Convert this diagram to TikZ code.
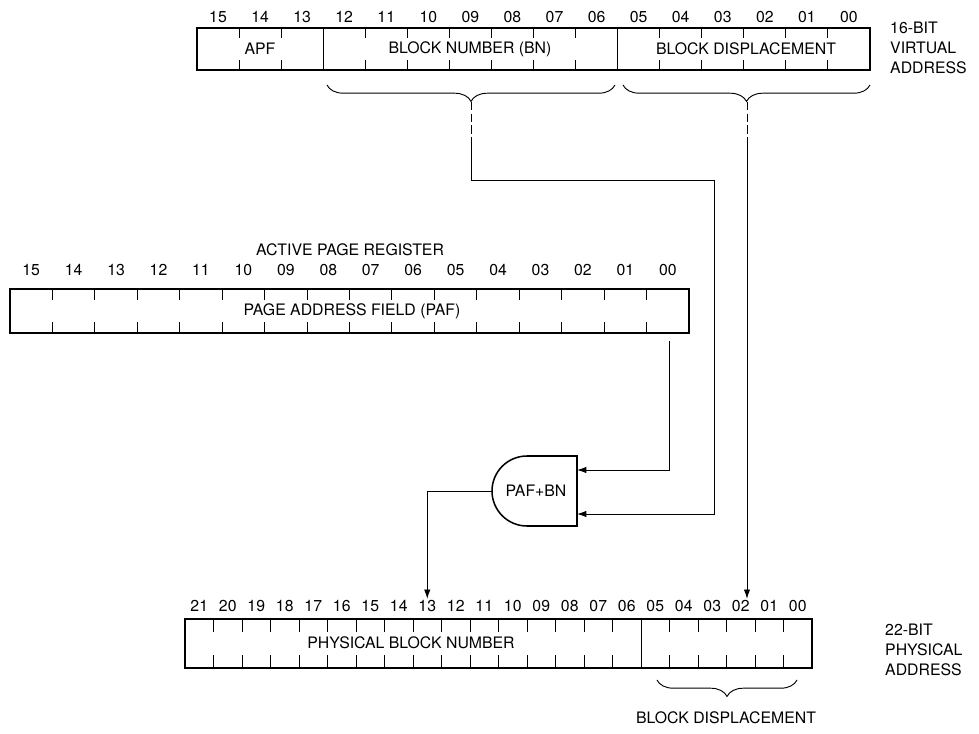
\documentclass[tikz,border=0pt]{standalone}
\usepackage{fontspec}
\setmainfont{TeX Gyre Heros}
\usetikzlibrary{arrows.meta,calc,positioning,decorations.pathreplacing}

\begin{document}
\begin{tikzpicture}[x=0.03cm, y=-0.03cm,
  every node/.style={font=\fontsize{13.5}{17}\selectfont, inner sep=0pt},
  regbox/.style={line width=1.3pt},
  tick/.style={line width=0.8pt},
  wire/.style={line width=0.8pt},
  arr/.style={wire, -{Latex[length=8pt,width=5.5pt]}},
  brc/.style={line width=0.8pt, decorate, decoration={brace, mirror, amplitude=14pt}}]
\useasboundingbox (0,0) rectangle (979,734);
% Indirizzo virtuale a 16 bit
\foreach \lab [count=\i from 0] in {15,14,13,12,11,10,09,08,07,06,05,04,03,02,01,00}{
  \node (vb\lab) at (197+\i*42.06+21.03,17) {\lab};
}
\draw[regbox] (197,28) rectangle (870,70);
\foreach \k in {1,2,4,5,6,7,8,9,11,12,13,14,15}{
  \draw[tick] (197+\k*42.06,28) -- ++(0,10);
  \draw[tick] (197+\k*42.06,70) -- ++(0,-10);
}
\foreach \k in {3,10} \draw[tick] (197+\k*42.06,28) -- (197+\k*42.06,70);
\node (apf) at (260,49) {APF};
\node (bn) at (470,49) {BLOCK NUMBER (BN)};
\node (bd) at (746,49) {BLOCK DISPLACEMENT};
\node[align=left, anchor=north west] (va) at (890,22) {16-BIT\\VIRTUAL\\ADDRESS};
% Parentesi sotto BN e BD
\draw[brc] (327,85) -- (615,85);
\draw[brc] (623,85) -- (870,85);
\coordinate (bntip) at (471,102);
\coordinate (bdtip) at (747,102);
% Registro pagina attiva
\node (apr) at (350,250) {ACTIVE PAGE REGISTER};
\foreach \lab [count=\i from 0] in {15,14,13,12,11,10,09,08,07,06,05,04,03,02,01,00}{
  \node (ab\lab) at (10+\i*42.44+21.22,270) {\lab};
}
\draw[regbox] (10,289) rectangle (689,333);
\foreach \k in {1,...,15}{
  \draw[tick] (10+\k*42.44,289) -- ++(0,11);
  \draw[tick] (10+\k*42.44,333) -- ++(0,-11);
}
\node (paf) at (352,311) {PAGE ADDRESS FIELD (PAF)};
% Sommatore PAF+BN
\draw[regbox] (577,456) -- (527,456) arc (270:90:35) -- (577,526) -- cycle;
\node (sum) at (536,491) {PAF+BN};
\coordinate (gin1) at (577,470);
\coordinate (gin2) at (577,514);
\coordinate (gout) at (492,491);
% Indirizzo fisico a 22 bit
\foreach \lab [count=\i from 0] in {21,20,19,18,17,16,15,14,13,12,11,10,09,08,07,06,05,04,03,02,01,00}{
  \node (pb\lab) at (185+\i*28.5+14.25,606) {\lab};
}
\draw[regbox] (185,619) rectangle (812,668);
\foreach \k in {1,...,15,17,18,19,20,21}{
  \draw[tick] (185+\k*28.5,619) -- ++(0,13);
  \draw[tick] (185+\k*28.5,668) -- ++(0,-13);
}
\draw[tick] (185+16*28.5,619) -- (185+16*28.5,668);
\node (pbn) at (411,643) {PHYSICAL BLOCK NUMBER};
\draw[brc] (657,680) -- (797,680);
\node (pbd) at (726,718) {BLOCK DISPLACEMENT};
\node[align=left, anchor=north west] (pa) at (885,624) {22-BIT\\PHYSICAL\\ADDRESS};
% Collegamenti
\coordinate (bnbend) at (714,180);
\coordinate (pafout) at (669,341);
\draw[wire, dash pattern=on 7pt off 3pt] (bntip) -- ++(0,35) coordinate (bnmid);
\draw[arr] (bnmid) |- (bnbend) |- (gin2);
\draw[arr] (pafout) |- (gin1);
\draw[arr, shorten >=1pt] (gout) -| (pb13.north);
\draw[wire, dash pattern=on 7pt off 3pt] (bdtip) -- ++(0,35) coordinate (bdmid);
\draw[arr, shorten >=1pt] (bdmid) -- (bdmid |- pb02.north);
\end{tikzpicture}
\end{document}
